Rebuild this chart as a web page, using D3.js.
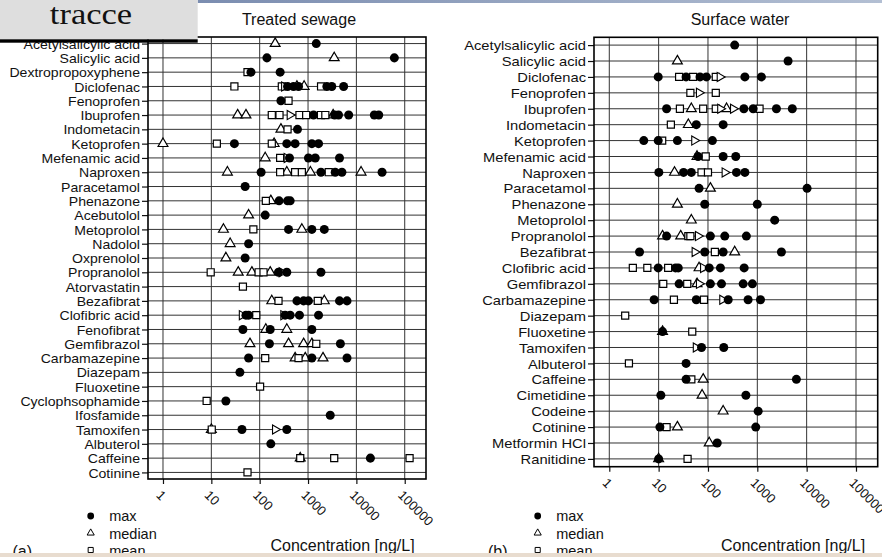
<!DOCTYPE html>
<html><head><meta charset="utf-8">
<script src="https://cdn.jsdelivr.net/npm/d3@7"></script>
<style>
body{margin:0;background:#fff}
svg{display:block}
text{font-family:"Liberation Sans",Arial,Helvetica,sans-serif;fill:#111}
</style>
</head><body>
<svg id="c" width="882" height="557"></svg>
<script>
// ---------- DATA (ng/L) ----------
const sewageCategories = ["Acetylsalicylic acid","Salicylic acid","Dextropropoxyphene","Diclofenac","Fenoprofen","Ibuprofen","Indometacin","Ketoprofen","Mefenamic acid","Naproxen","Paracetamol","Phenazone","Acebutolol","Metoprolol","Nadolol","Oxprenolol","Propranolol","Atorvastatin","Bezafibrat","Clofibric acid","Fenofibrat","Gemfibrazol","Carbamazepine","Diazepam","Fluoxetine","Cyclophsophamide","Ifosfamide","Tamoxifen","Albuterol","Caffeine","Cotinine"];
const sewageMax = [[1480],[141,61000],[66,265],[377,501,636,2450,3100,5450],[275],[1300,3550,4270,6930,23500,29000],[605],[30,364,540,1200,1650],[414,1020,1410,4480],[107,1850,3650,5020,34000],[50],[252,377,427],[130],[395,1200,2170],[59],[50],[245,364,1850],[],[590,810,1020,4480,6400],[52,59,336,427,665,1650],[45,165,1200],[159,4670],[59,1200,6400],[39],[],[20],[2880],[43,364],[170],[19500],[]];
const sewageMedian = [[209],[3480],[],[590,830],[],[35,52,3300],[275],[1,199],[130],[21.5,364,1120,12500],[],[170],[59],[17.8,745],[24.5],[20],[36,69,165],[],[178,2170],[],[134,364],[63,395,810,1200],[540,875,2040],[],[],[],[],[10],[],[690],[]];
const sewageMean = [[],[],[56],[30,287,1860],[395],[178,257,665,916,1850,2280],[377],[13,178],[265],[265,540,745,2680],[],[134],[],[74],[],[],[9.7,95,120],[45],[245,1590],[85],[],[1480],[130,636],[],[102],[8],[],[10.2],[],[690,3480,126000],[56]];
const sewageOther = [[],[],[],[322],[],[420],[],[],[364],[],[],[],[],[],[],[],[287],[],[],[43,310],[],[],[],[],[],[],[],[209],[],[],[]];

const surfaceCategories = ["Acetylsalicylic acid","Salicylic acid","Diclofenac","Fenoprofen","Ibuprofen","Indometacin","Ketoprofen","Mefenamic acid","Naproxen","Paracetamol","Phenazone","Metoprolol","Propranolol","Bezafibrat","Clofibric acid","Gemfibrazol","Carbamazepine","Diazepam","Fluoxetine","Tamoxifen","Albuterol","Caffeine","Cimetidine","Codeine","Cotinine","Metformin HCl","Ranitidine"];
const surfaceMax = [[348],[4200],[9.8,36,69,93,560,1210],[],[14.5,534,825,2440,5120],[58,203],[5,9.8,24,123],[63,203,366],[10.1,32,46,378,560],[66,10200],[86,1000],[2250],[14.5,112,219,600],[4.1,86,203,3080],[9.8,22,25,106,179,541],[26,112,188,517,795],[8.1,58,257,650,1160],[],[12],[74,209],[36],[36,6200],[11.1,587],[1040],[10.6,930],[154],[10]];
const surfaceMedian = [[],[24],[],[],[46,238],[40],[],[60],[21],[112],[24],[46],[12,28],[348],[66],[60],[],[],[12],[],[],[80],[76],[203],[24],[106],[10]];
const surfaceMean = [[],[],[26,50,144],[44,144],[27,80,144,1110],[17.7],[11.8],[90],[74,100],[],[],[],[40,44],[138],[3.0,5.9,15.6],[12.4,38],[20.4,83],[2.1],[48],[],[2.5],[46],[],[],[14.5],[],[38.6]];
const surfaceOther = [[],[],[174],[66],[178,324],[],[53],[],[219],[],[],[],[63],[54],[80],[66],[196],[],[],[57],[],[],[],[],[],[],[]];

const tickValues = [1,10,100,1000,10000,100000];
const tickLabels = ["1","10","100","1000","10000","100000"];
const legendLabels = ["max","median","mean"];
const panelTitles = ["Treated sewage","Surface water"];
const axisTitle = "Concentration [ng/L]";
const panelTags = ["(a)","(b)"];

// ---------- DRAW ----------
const svg = d3.select("#c");
const defs = svg.append("defs");
const grad = defs.append("linearGradient").attr("id","topband");
grad.append("stop").attr("offset","0").attr("stop-color","#7b8db0");
grad.append("stop").attr("offset","1").attr("stop-color","#b3bfd3");

const symCircle = d3.symbol(d3.symbolCircle, 64)();
const symTri = d3.symbol(d3.symbolTriangle, 42)();
const symSquare = d3.symbol(d3.symbolSquare, 50)();
const symRTri = d3.symbol(d3.symbolTriangle, 36)();

function flatten(cats, arr){
  const out=[];
  arr.forEach((vals,i)=>vals.forEach(v=>out.push({cat:cats[i], v})));
  return out;
}

function panel(c){
  const g = svg.append("g");
  const x = d3.scaleLog().domain([Math.pow(10,-0.31), Math.pow(10,5.44)]).range([c.left, c.right]);
  const y = d3.scalePoint().domain(c.cats).range([c.top, c.bottom]).padding(c.pad);

  // grid
  g.append("g").selectAll("line").data(c.cats).join("line")
    .attr("x1", c.left).attr("x2", c.right)
    .attr("y1", d=>y(d)).attr("y2", d=>y(d))
    .attr("stroke","#333").attr("stroke-width",1);
  g.append("g").selectAll("line").data(tickValues).join("line")
    .attr("x1", d=>x(d)).attr("x2", d=>x(d))
    .attr("y1", c.top).attr("y2", c.bottom)
    .attr("stroke","#333").attr("stroke-width",1);

  // y axis
  const ya = g.append("g").attr("transform",`translate(${c.left},0)`)
    .call(d3.axisLeft(y).tickSize(6).tickSizeOuter(0));
  ya.select(".domain").remove();
  ya.selectAll(".tick line").attr("stroke","#111").attr("stroke-width",1.2);
  ya.selectAll(".tick text")
    .attr("x",null).attr("dy","0.36em")
    .attr("transform",`translate(-8,0) scale(${c.labelScale},1)`)
    .attr("text-anchor","end")
    .style("font-size","12.8px").attr("fill","#111");

  // x axis
  const xa = g.append("g").attr("transform",`translate(0,${c.bottom})`)
    .call(d3.axisBottom(x).tickValues(tickValues).tickSize(5).tickSizeOuter(0)
      .tickFormat((d,i)=>tickLabels[i]));
  xa.select(".domain").remove();
  xa.selectAll(".tick line").attr("stroke","#111").attr("stroke-width",1.2);
  xa.selectAll(".tick text")
    .attr("y",null).attr("dy",null)
    .attr("text-anchor","start")
    .attr("transform","translate(-8,17) rotate(45)")
    .style("font-size","13px").attr("fill","#111");

  // frame
  g.append("rect").attr("x",c.left).attr("y",c.top)
    .attr("width",c.right-c.left).attr("height",c.bottom-c.top)
    .attr("fill","none").attr("stroke","#000").attr("stroke-width",1.6);

  // markers
  const mk = g.append("g");
  mk.selectAll(".med").data(flatten(c.cats,c.median)).join("path")
    .attr("d",symTri).attr("transform",d=>`translate(${x(d.v)},${y(d.cat)})`)
    .attr("fill","#fff").attr("stroke","#000").attr("stroke-width",1.2);
  mk.selectAll(".mean").data(flatten(c.cats,c.mean)).join("path")
    .attr("d",symSquare).attr("transform",d=>`translate(${x(d.v)},${y(d.cat)})`)
    .attr("fill","#fff").attr("stroke","#000").attr("stroke-width",1.2);
  mk.selectAll(".oth").data(flatten(c.cats,c.other)).join("path")
    .attr("d",symRTri).attr("transform",d=>`translate(${x(d.v)},${y(d.cat)}) rotate(90)`)
    .attr("fill","#fff").attr("stroke","#000").attr("stroke-width",1.1);
  mk.selectAll(".max").data(flatten(c.cats,c.max)).join("path")
    .attr("d",symCircle).attr("transform",d=>`translate(${x(d.v)},${y(d.cat)})`)
    .attr("fill","#000");

  // title
  g.append("text").attr("x",c.titleX).attr("y",25).attr("text-anchor","middle")
    .style("font-size","16px").text(c.title);
  // x axis title
  g.append("text").attr("x",c.xlabelX).attr("y",550.5)
    .style("font-size","16px").text(axisTitle);
  // legend
  const lg = g.append("g");
  const ly = [516,533,550];
  const lty = [521,538.5,556];
  lg.append("path").attr("d",d3.symbol(d3.symbolCircle,36)())
    .attr("transform",`translate(${c.legendX},${ly[0]})`).attr("fill","#000");
  lg.append("path").attr("d",d3.symbol(d3.symbolTriangle,22)())
    .attr("transform",`translate(${c.legendX},${ly[1]})`).attr("fill","#fff").attr("stroke","#000").attr("stroke-width",1);
  lg.append("path").attr("d",d3.symbol(d3.symbolSquare,26)())
    .attr("transform",`translate(${c.legendX},${ly[2]})`).attr("fill","#fff").attr("stroke","#000").attr("stroke-width",1);
  lg.selectAll("text").data(legendLabels).join("text")
    .attr("x",c.legendX+18.5).attr("y",(d,i)=>lty[i])
    .style("font-size","14.5px").text(d=>d);
  // tag
  g.append("text").attr("x",c.tagX).attr("y",557).style("font-size","16px").text(c.tag);
}

panel({cats:sewageCategories,max:sewageMax,median:sewageMedian,mean:sewageMean,other:sewageOther,
  left:148,right:426,top:37,bottom:479,pad:0.46,labelScale:1.1,title:panelTitles[0],titleX:299,
  xlabelX:270.5,legendX:90.7,tag:panelTags[0],tagX:12.5});
panel({cats:surfaceCategories,max:surfaceMax,median:surfaceMedian,mean:surfaceMean,other:surfaceOther,
  left:594,right:877.7,top:37.3,bottom:466.7,pad:0.49,labelScale:1.15,title:panelTitles[1],titleX:740,
  xlabelX:721,legendX:537.7,tag:panelTags[1],tagX:488});

// slide decorations
svg.append("rect").attr("x",197.7).attr("y",0).attr("width",882-197.7).attr("height",3).attr("fill","url(#topband)");
svg.append("rect").attr("x",0).attr("y",553).attr("width",882).attr("height",4).attr("fill","#e8dccf");
svg.append("rect").attr("x",0).attr("y",0).attr("width",197.7).attr("height",39.5).attr("fill","#dedede");
svg.append("rect").attr("x",0).attr("y",39.3).attr("width",197.7).attr("height",3.4).attr("fill","#000");
svg.append("text").attr("transform","translate(91,24) scale(1.15,1)").attr("text-anchor","middle")
  .style("font-family",'"Liberation Serif","Times New Roman",serif').style("font-size","30px")
  .attr("fill","#1a1a1a").text("tracce");
</script>
</body></html>
